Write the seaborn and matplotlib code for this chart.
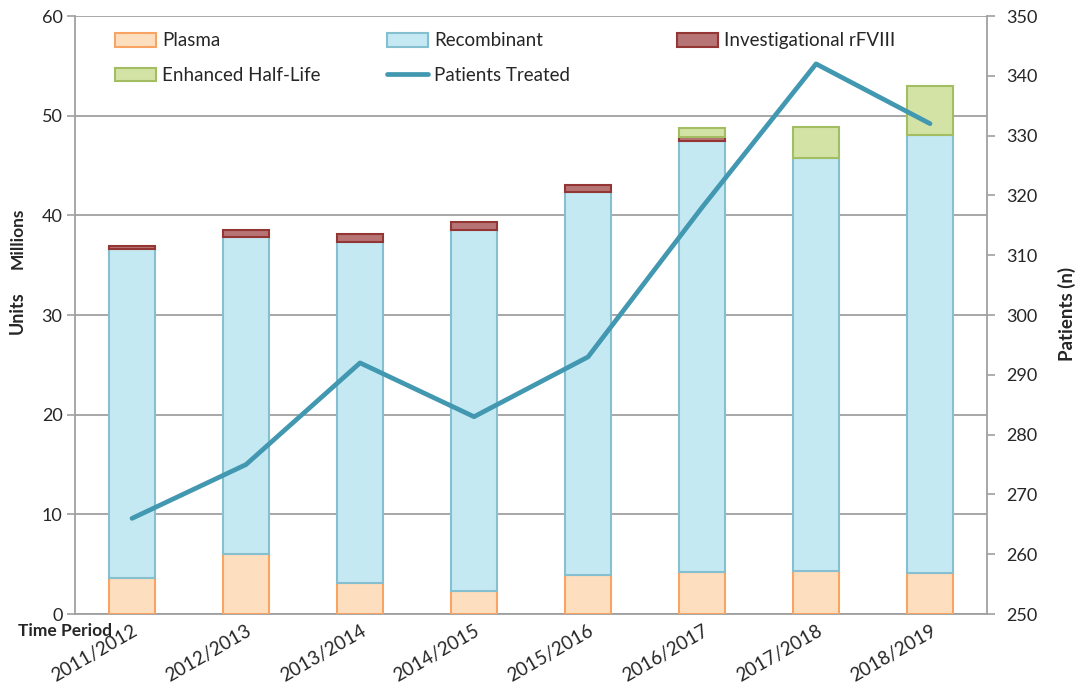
import matplotlib
matplotlib.use("Agg")
import matplotlib.pyplot as plt
from matplotlib.patches import Patch
from matplotlib.lines import Line2D
from matplotlib.legend import Legend
import seaborn as sb
import numpy as np
import pandas as pd

# values
periods = ['2011/2012', '2012/2013', '2013/2014', '2014/2015',
           '2015/2016', '2016/2017', '2017/2018', '2018/2019']
plasma = [3.6, 6.0, 3.1, 2.3, 3.9, 4.2, 4.3, 4.1]
recombinant = [33.0, 31.8, 34.2, 36.2, 38.4, 43.3, 41.5, 44.0]
investigational = [0.3, 0.7, 0.8, 0.8, 0.7, 0.4, 0.0, 0.0]
enhanced = [0.0, 0.0, 0.0, 0.0, 0.0, 0.9, 3.1, 4.9]
patients = [266, 275, 292, 283, 293, 318, 342, 332]

series = [
    ('Plasma', plasma, '#FDDFC0', '#F9A462'),
    ('Recombinant', recombinant, '#C5E9F3', '#86BFD0'),
    ('Investigational rFVIII', investigational, '#B77474', '#943634'),
    ('Enhanced Half-Life', enhanced, '#D3E3A5', '#A3BE62'),
]
line_color = '#4198B0'
grey = '#A0A0A0'

sb.set_style('white')
plt.rcParams['font.family'] = ['Lato', 'DejaVu Sans']

fig = plt.figure(figsize=(10.81, 6.97), dpi=100)
ax = fig.add_axes([0.0694, 0.119, 0.8437, 0.858])

bottom = np.zeros(len(periods))
for name, vals, face, edge in series:
    vals = np.array(vals)
    keep = vals > 0
    df = pd.DataFrame({'period': np.array(periods)[keep], 'value': vals[keep]})
    sb.barplot(data=df, x='period', y='value', order=periods, ax=ax,
               bottom=bottom[keep], color=face, edgecolor=edge, linewidth=1.5,
               width=0.41, saturation=1, zorder=3)
    bottom += vals

ax.set_xlim(-0.5, 7.5)
ax.set_ylim(0, 60)
ax.set_yticks(range(0, 61, 10))
ax.yaxis.grid(True, color=grey, linewidth=1.3, zorder=0)
ax.set_axisbelow(True)
ax.set_xlabel('')
ax.set_ylabel('')
for side in ['left', 'bottom', 'right']:
    ax.spines[side].set_color(grey)
    ax.spines[side].set_linewidth(1.3)
ax.spines['top'].set_visible(False)
ax.tick_params(axis='y', length=6, color=grey, width=1.2, labelsize=13, pad=3)
ax.tick_params(axis='x', length=0, labelsize=13.5, pad=6)
ax.set_xticks(range(len(periods)))
ax.set_xticklabels(periods, rotation=30, ha='right', rotation_mode='anchor')

# patients on right axis
ax2 = ax.twinx()
sb.lineplot(x=np.arange(len(periods)), y=patients, ax=ax2, color=line_color,
            linewidth=3.4, sort=False)
ax2.set_ylim(250, 350)
ax2.set_yticks(range(250, 351, 10))
ax2.tick_params(axis='y', length=6, color=grey, width=1.2, labelsize=13, pad=8)
for side in ['left', 'bottom', 'right', 'top']:
    ax2.spines[side].set_visible(False)
ax2.set_xlim(-0.5, 7.5)

# legend, three columns placed like the original
def patch(face, edge):
    return Patch(facecolor=face, edgecolor=edge, linewidth=1.5)

cols = [
    (0.044, [patch(series[0][2], series[0][3]), patch(series[3][2], series[3][3])],
     ['Plasma', 'Enhanced Half-Life']),
    (0.342, [patch(series[1][2], series[1][3]),
             Line2D([0], [0], color=line_color, linewidth=3.4)],
     ['Recombinant', 'Patients Treated']),
    (0.660, [patch(series[2][2], series[2][3])], ['Investigational rFVIII']),
]
for x0, handles, labels in cols:
    leg = Legend(ax2, handles, labels, loc='upper left', bbox_to_anchor=(x0, 0.973),
                 frameon=False, fontsize=13.5, borderpad=0, borderaxespad=0,
                 handlelength=2.2, handleheight=0.75, handletextpad=0.3,
                 labelspacing=0.95)
    ax2.add_artist(leg)

# axis titles
fig.text(0.016, 0.552, 'Units', rotation=90, fontsize=13, fontweight='bold',
         ha='center', va='center')
fig.text(0.016, 0.658, 'Millions', rotation=90, fontsize=12.5, fontweight='bold',
         ha='center', va='center')
fig.text(0.987, 0.549, 'Patients (n)', rotation=90, fontsize=13.5, fontweight='bold',
         ha='center', va='center')
fig.text(0.017, 0.094, 'Time Period', fontsize=12.5, fontweight='bold',
         ha='left', va='center')

fig.savefig('out.png', dpi=100)
